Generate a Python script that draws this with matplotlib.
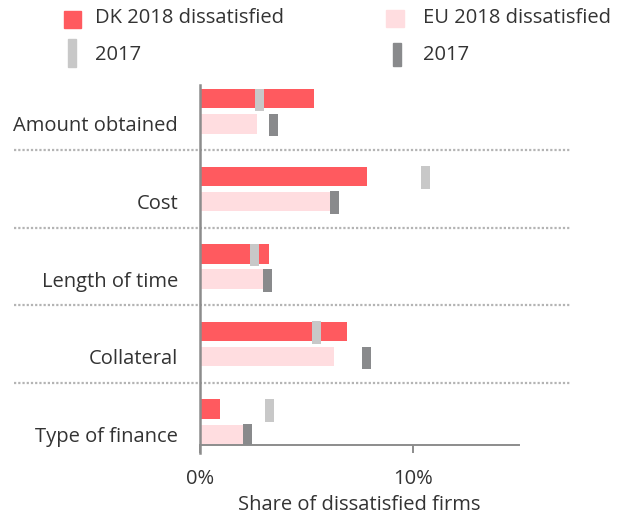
#!/usr/bin/env python3

import matplotlib.pyplot as plt
import matplotlib.transforms as mtransforms
from matplotlib.patches import Rectangle
import numpy as np


# chart data (share of dissatisfied firms, %)
categories = ["Amount obtained", "Cost", "Length of time", "Collateral", "Type of finance"]
dk_2018 = [5.35, 7.83, 3.24, 6.92, 0.94]
dk_2017 = [2.80, 10.60, 2.56, 5.49, 3.25]
eu_2018 = [2.67, 6.13, 2.96, 6.32, 2.04]
eu_2017 = [3.46, 6.33, 3.18, 7.81, 2.23]
x_ticks = [0, 10]
x_tick_labels = ["0%", "10%"]
legend_labels = ["DK 2018 dissatisfied", "EU 2018 dissatisfied", "2017", "2017"]

# colours
c_dk      = "#ff5a5f"
c_eu      = "#ffdde0"
c_dk17    = "#c8c8c8"
c_eu17    = "#898a8c"
c_txt     = "#333333"
c_axis    = "#8c8c8c"
fs        = 14.5

plt.rcParams['font.family'] = ['Open Sans', 'DejaVu Sans']

W, H = 626, 519
fig = plt.figure(figsize=(W/100, H/100), dpi=100)
ax = fig.add_axes([200/W, 1 - 445/H, 319/W, 360/H])

n = np.arange(len(categories))
off = 0.1625
bar_h = 0.25
mark_w = 0.42
mark_h = 0.29

ax.barh(n - off, dk_2018, height=bar_h, color=c_dk, zorder=2)
ax.barh(n + off, eu_2018, height=bar_h, color=c_eu, zorder=2)
ax.barh(n - off + 0.015, mark_w, left=np.array(dk_2017) - mark_w/2, height=mark_h,
        color=c_dk17, zorder=3)
ax.barh(n + off + 0.015, mark_w, left=np.array(eu_2017) - mark_w/2, height=mark_h,
        color=c_eu17, zorder=3)

ax.set_xlim(0, 15)
ax.set_ylim(4.30, -0.34)

# dotted separators between categories, running past the axes
trans = mtransforms.blended_transform_factory(ax.transAxes, ax.transData)
for i in range(len(categories) - 1):
  ax.plot([-0.583, 1.16], [i + 0.5, i + 0.5], transform=trans, clip_on=False,
          color="#b4b4b4", lw=1.6, linestyle=(0, (1, 0.9)), zorder=1)

for s in ["top", "right"]:
  ax.spines[s].set_visible(False)
ax.spines["left"].set_color(c_axis)
ax.spines["left"].set_linewidth(1.8)
ax.spines["left"].set_bounds(4.40, -0.34)
ax.spines["bottom"].set_color(c_axis)
ax.spines["bottom"].set_linewidth(1.4)

ax.set_yticks(n + off, categories)
ax.tick_params(axis="y", length=0, pad=15.8, labelsize=fs, labelcolor=c_txt)
ax.set_xticks(x_ticks, x_tick_labels)
ax.tick_params(axis="x", length=5.8, width=1.4, color=c_axis, pad=11.5,
               labelsize=fs, labelcolor=c_txt)
ax.set_xlabel("Share of dissatisfied firms", fontsize=fs, color=c_txt, labelpad=4)

# legend, drawn by hand
def px_rect(x, y, w, h, color):
  fig.add_artist(Rectangle((x/W, 1 - (y + h)/H), w/W, h/H, color=color,
                           transform=fig.transFigure))

px_rect(64, 11.5, 17, 17, c_dk)
px_rect(386, 9.5, 18, 17, c_eu)
px_rect(68, 39, 7.5, 27.5, c_dk17)
px_rect(393, 43, 8, 23, c_eu17)
fig.text(95/W, 1 - 18/H, legend_labels[0], fontsize=fs, color=c_txt, va="center")
fig.text(423/W, 1 - 18/H, legend_labels[1], fontsize=fs, color=c_txt, va="center")
fig.text(95/W, 1 - 55/H, legend_labels[2], fontsize=fs, color=c_txt, va="center")
fig.text(423/W, 1 - 55/H, legend_labels[3], fontsize=fs, color=c_txt, va="center")

fig.savefig("out.png", dpi=100)
